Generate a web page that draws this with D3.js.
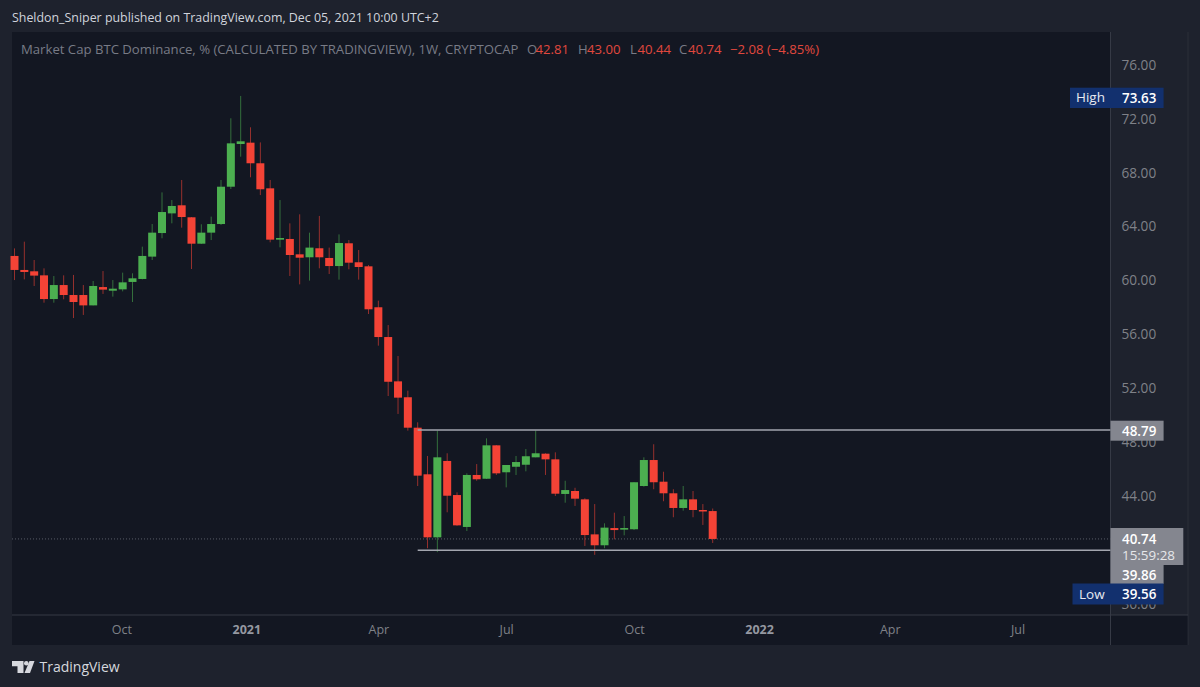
<!DOCTYPE html>
<html><head><meta charset="utf-8">
<script src="https://cdn.jsdelivr.net/npm/d3@7"></script>
<style>
html,body{margin:0;padding:0;background:#1e222d;overflow:hidden}
svg{display:block}
text{font-family:"Open Sans",Roboto,sans-serif}
</style></head><body>
<svg id="c" width="1200" height="687"></svg>
<script>
const headerText = "Sheldon_Sniper published on TradingView.com, Dec 05, 2021 10:00 UTC+2";
const legendTitle = "Market Cap BTC Dominance, % (CALCULATED BY TRADINGVIEW), 1W, CRYPTOCAP";
const legendOHLC = [["O","42.81"],["H","43.00"],["L","40.44"],["C","40.74"]];
const legendChange = "−2.08 (−4.85%)";
const firstWeek = new Date(2020,6,20), lastWeek = new Date(2021,10,29);
const opens = [61.75,60.71,60.61,60.31,58.55,59.59,58.85,58.85,58.08,59.44,59.17,59.27,59.82,60.04,61.70,63.45,64.91,65.51,64.62,62.66,63.48,64.12,66.89,70.06,70.16,68.63,66.77,62.96,63.01,61.87,61.65,62.32,61.60,61.00,62.69,61.28,60.98,57.94,55.73,52.44,51.26,49.00,45.54,40.86,46.53,44.00,41.63,45.49,45.21,47.69,45.69,46.10,46.25,46.80,47.07,46.65,44.08,44.30,43.68,41.08,40.27,41.55,41.43,41.46,44.67,46.60,44.99,44.13,43.04,43.68,42.89,42.81];
const highs = [62.31,62.81,61.45,60.83,60.26,60.31,60.34,59.59,59.89,60.63,59.96,60.51,60.46,62.44,64.12,66.47,65.90,67.39,64.64,64.10,64.67,67.39,71.97,73.63,71.30,70.18,67.39,65.90,64.17,64.84,63.48,64.72,62.37,63.35,62.93,62.19,61.08,58.43,56.62,54.32,51.75,49.40,46.90,48.78,47.10,44.20,45.61,46.30,48.21,47.71,46.23,46.90,47.42,48.79,47.10,47.17,45.06,44.54,43.76,43.33,41.90,42.69,42.44,44.95,46.80,47.77,45.73,44.43,44.67,44.30,43.33,43.00];
const lows = [59.96,60.01,59.52,58.28,58.28,58.53,57.14,57.37,58.08,58.93,58.73,59.12,58.33,60.01,61.45,63.06,64.17,63.85,60.78,62.64,62.93,64.05,66.72,69.12,67.59,66.27,62.76,62.39,60.26,59.64,59.92,60.83,60.41,59.99,60.76,59.99,57.44,55.09,51.35,50.02,48.78,44.67,40.05,39.76,42.72,41.72,41.33,45.06,45.19,45.49,44.57,45.49,45.76,46.80,45.49,43.93,43.43,43.19,40.22,39.56,40.05,40.71,41.01,41.40,44.62,44.43,43.54,42.35,42.84,42.35,41.78,40.44];
const closes = [60.71,60.56,60.29,58.55,59.59,58.85,58.33,58.08,59.52,59.25,59.32,59.79,60.09,61.75,63.48,65.01,65.46,64.64,62.66,63.48,64.12,66.89,70.11,70.26,68.63,66.70,62.96,63.08,61.82,61.62,62.37,61.65,61.00,62.71,61.25,60.93,57.79,55.73,52.41,51.23,49.00,45.44,40.86,46.80,43.95,41.75,45.49,45.17,47.69,45.61,46.23,46.45,46.88,47.10,46.65,44.10,44.37,43.73,41.03,40.27,41.58,41.40,41.55,44.95,46.60,44.95,44.13,43.04,43.68,42.89,42.81,40.74];
const priceTicks = [36,44,48,52,56,60,64,68,72,76];
const timeTicks = [new Date(2020,9,4),new Date(2021,0,1),new Date(2021,3,5),new Date(2021,6,5),new Date(2021,9,4),new Date(2022,0,1),new Date(2022,3,4),new Date(2022,6,4)];
const timeLabels = ["Oct","2021","Apr","Jul","Oct","2022","Apr","Jul"];
const boldLabels = ["2021","2022"];
const levels = [48.79, 39.86];
const lastPrice = 40.74, countdown = "15:59:28", highVal = 73.63, lowVal = 39.56;

const pane = {l:12,t:32,r:1110.5,b:615};
const svg = d3.select("#c");
const col = {bg:"#1e222d",pane:"#131722",axis:"#1e222d",grid:"#363a45",up:"#4caf50",down:"#f44336",gray:"#787b86",label:"#7f8188",blue:"#12306e"};

const dates = d3.timeMonday.range(firstWeek, d3.timeDay.offset(lastWeek,1));
const x = d3.scaleTime().domain([firstWeek,lastWeek]).range([14.5,712.7]);
const y = d3.scaleLinear().domain([76,36]).range([64,602.8]);

svg.append("rect").attr("width",1200).attr("height",687).attr("fill",col.bg);
svg.append("rect").attr("x",pane.l).attr("y",pane.t).attr("width",1176).attr("height",613).attr("fill",col.pane);
svg.append("rect").attr("x",pane.r).attr("y",pane.t).attr("width",77.5).attr("height",pane.b-pane.t).attr("fill",col.axis);
svg.append("line").attr("x1",pane.l).attr("x2",1188).attr("y1",pane.b).attr("y2",pane.b).attr("stroke",col.grid);
svg.append("line").attr("x1",pane.r).attr("x2",pane.r).attr("y1",pane.t).attr("y2",645).attr("stroke",col.grid);
svg.append("line").attr("x1",1188).attr("x2",1188).attr("y1",pane.t).attr("y2",645).attr("stroke",col.grid).attr("opacity",.5);

svg.append("defs").append("clipPath").attr("id","pc").append("rect").attr("x",pane.r).attr("y",pane.t).attr("width",80).attr("height",pane.b-pane.t);

// axes
const py = svg.append("g").attr("clip-path","url(#pc)").append("g")
  .attr("transform",`translate(${pane.r},1)`)
  .call(d3.axisRight(y).tickValues(priceTicks).tickSize(0).tickPadding(11).tickFormat(d3.format(".2f")));
py.select(".domain").remove();
py.selectAll("text").attr("fill",col.label).attr("font-size",13.6).attr("font-family",'"Open Sans",sans-serif');

const tx = svg.append("g").attr("transform","translate(0,625)")
  .call(d3.axisBottom(x).tickValues(timeTicks).tickSize(0).tickPadding(0).tickFormat((d,i)=>timeLabels[i]));
tx.select(".domain").remove();
tx.selectAll("text").attr("fill",(d,i)=>boldLabels.includes(timeLabels[i])?"#9598a1":col.label)
  .attr("font-weight",(d,i)=>boldLabels.includes(timeLabels[i])?700:400)
  .attr("font-size",12.5).attr("font-family",'"Open Sans",sans-serif');

// last-price dotted line
svg.append("line").attr("x1",pane.l).attr("x2",pane.r).attr("y1",y(lastPrice)).attr("y2",y(lastPrice))
  .attr("stroke","#6a6d78").attr("stroke-width",1).attr("stroke-dasharray","1 2").attr("opacity",.8);

// candles
const candles = dates.map((d,i)=>({d,o:opens[i],h:highs[i],l:lows[i],c:closes[i]}));
const g = svg.append("g");
g.selectAll("line.w").data(candles).join("line").attr("class","w")
  .attr("x1",d=>x(d.d)).attr("x2",d=>x(d.d)).attr("y1",d=>y(d.h)).attr("y2",d=>y(d.l))
  .attr("stroke",d=>d.c>=d.o?col.up:col.down).attr("stroke-width",1).attr("opacity",.58);
g.selectAll("rect").data(candles).join("rect")
  .attr("x",d=>x(d.d)-4).attr("width",8)
  .attr("y",d=>y(Math.max(d.o,d.c))).attr("height",d=>Math.max(1.5,Math.abs(y(d.o)-y(d.c))))
  .attr("fill",d=>d.c>=d.o?col.up:col.down);

// horizontal levels
svg.selectAll("line.lv").data(levels).join("line").attr("class","lv")
  .attr("x1",x(dates[41])).attr("x2",pane.r).attr("y1",d=>y(d)-.5).attr("y2",d=>y(d)-.5)
  .attr("stroke","#a3a6af").attr("stroke-width",1.6);

// price labels
function box(x0,x1,y0,y1,fill){svg.append("rect").attr("x",x0).attr("y",y0).attr("width",x1-x0).attr("height",y1-y0).attr("fill",fill);}
function txt(x0,yc,s,fill,size,w){return svg.append("text").attr("x",x0).attr("y",yc).attr("dy","0.35em").attr("fill",fill).attr("font-size",size||13).attr("font-weight",w||400).text(s);}
box(1070,1163.6,87.7,108,col.blue);
txt(1076,97,"High","#e8eaf0",13.5); txt(1122,98,highVal.toFixed(2),"#ffffff",13.4,600);
box(pane.r,1163.6,420.7,440.7,"#84868f");
txt(1122,431,levels[0].toFixed(2),"#ffffff",13.4,600);
box(pane.r,1183.3,528,565,"#84868f");
txt(1122,539,lastPrice.toFixed(2),"#ffffff",13.4,600);
txt(1122,555,countdown,"#e6e7ea",13.4);
box(pane.r,1163.6,565,584,"#84868f");
txt(1122,575,levels[1].toFixed(2),"#ffffff",13.4,600);
box(1072.5,1163.6,583.5,604.5,col.blue);
txt(1079,594,"Low","#e8eaf0",13.5); txt(1122,594,lowVal.toFixed(2),"#ffffff",13.4,600);

// header and legend
txt(12,18,headerText,"#d1d4dc",12.4,500);
txt(21,49,legendTitle,col.gray,13.15);
const red="#e0483e";
const lx=[[527,535.5],[578,587],[630,637.5],[679,688]];
legendOHLC.forEach((p,i)=>{txt(lx[i][0],49,p[0],col.gray,13.15);txt(lx[i][1],49,p[1],red,13.15);});
txt(730,49,legendChange,red,13.15);

// logo
const lg=svg.append("g").attr("fill","#d6d8de");
lg.append("path").attr("d","M12 661H23.5V673H17.5V666.2H12Z");
lg.append("circle").attr("cx",26.3).attr("cy",663.2).attr("r",2.3);
lg.append("path").attr("d","M29.5 661H34.5L30 673H24.5Z");
txt(39.5,667,"TradingView","#d6d8de",14);
</script></body></html>
